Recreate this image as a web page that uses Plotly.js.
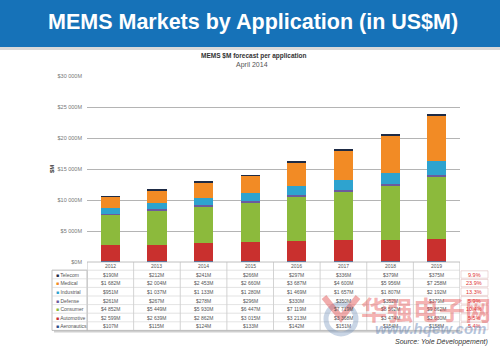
<!DOCTYPE html>
<html><head><meta charset="utf-8">
<script src="https://cdn.plot.ly/plotly-3.0.1.min.js"></script>
<style>html,body{margin:0;padding:0;background:#fff}#chart{width:500px;height:347px}</style>
</head><body><div id="chart"></div>
<script>
const years = ['2012','2013','2014','2015','2016','2017','2018','2019'];
const seriesNames = ['Aeronautics','Automotive','Consumer','Defense','Industrial','Medical','Telecom'];
const aeronautics = [107,115,124,133,142,151,154,158];
const automotive = [2599,2639,2862,3015,3213,3368,3474,3630];
const consumer = [4852,5449,5930,6447,7119,7719,8562,9862];
const defense = [261,267,278,296,330,350,352,379];
const industrial = [951,1037,1133,1280,1469,1657,1807,2192];
const medical = [1682,2004,2453,2660,3687,4600,5956,7258];
const telecom = [190,212,241,266,297,336,379,375];
const cagrTop = ['9.9%','23.9%','13.3%','5.9%','10.4%','5.5%','5.4%']; // Telecom..Aeronautics
const yTickVals = [0,5000,10000,15000,20000,25000,30000];
const yTickText = ['$0M','$5 000M','$10 000M','$15 000M','$20 000M','$25 000M','$30 000M'];

const colors = ['#2b4f8c','#c9302e','#8cba3c','#6b5b9e','#2ea3cf','#f28b25','#1e2b45'];
const allSeries = [aeronautics,automotive,consumer,defense,industrial,medical,telecom];

const traces = allSeries.map((vals,i)=>({
  type:'bar', x:years, y:vals, name:seriesNames[i],
  marker:{color:colors[i], line:{width:0}}, hoverinfo:'skip'
}));

// layout geometry (pixels)
const W=500,H=347, L=87, R=460, T=76, B=262;
const px = x => (x-L)/(R-L);
const py = y => (B-y)/(B-T);

const ann = [];
const shapes = [];
// banner
shapes.push({type:'rect',xref:'paper',yref:'paper',x0:px(0),x1:px(500),y0:py(47),y1:py(0),fillcolor:'#1672b8',line:{width:0},layer:'below'});
shapes.push({type:'rect',xref:'paper',yref:'paper',x0:px(0),x1:px(500),y0:py(50),y1:py(47),fillcolor:'#d9d9d9',line:{width:0},layer:'below'});
ann.push({xref:'paper',yref:'paper',x:px(253),y:py(22),text:'<b>MEMS Markets by Application (in US$M)</b>',showarrow:false,font:{family:'Liberation Sans, Arial',size:21.5,color:'#ffffff'},xanchor:'center',yanchor:'middle'});
ann.push({xref:'paper',yref:'paper',x:px(253),y:py(56),text:'<b>MEMS $M forecast per application</b>',showarrow:false,font:{family:'Liberation Sans, Arial',size:6.5,color:'#333'},xanchor:'center',yanchor:'middle'});
ann.push({xref:'paper',yref:'paper',x:px(252),y:py(64.5),text:'April 2014',showarrow:false,font:{family:'Liberation Sans, Arial',size:7,color:'#555'},xanchor:'center',yanchor:'middle'});
ann.push({xref:'paper',yref:'paper',x:px(52),y:py(169),text:'<b>$M</b>',textangle:-90,showarrow:false,font:{family:'Liberation Sans, Arial',size:6,color:'#333'},xanchor:'center',yanchor:'middle'});

// table
const rowTop = 262, headH = 8.2, rowH = 8.6;
const tblFont = {family:'Liberation Sans, Arial',size:5,color:'#555'};
const tableRows = [
  ['Telecom',telecom,'#1e2b45'],
  ['Medical',medical,'#f28b25'],
  ['Industrial',industrial,'#2ea3cf'],
  ['Defense',defense,'#6b5b9e'],
  ['Consumer',consumer,'#8cba3c'],
  ['Automotive',automotive,'#c9302e'],
  ['Aeronautics',aeronautics,'#2b4f8c']
];
const fmt = v => '$' + String(v).replace(/\B(?=(\d{3})+(?!\d))/g,' ') + 'M';
const tblBottom = rowTop+headH+rowH*tableRows.length;
// shadow
shapes.push({type:'rect',xref:'paper',yref:'paper',x0:px(54),x1:px(462),y0:py(tblBottom+2),y1:py(tblBottom),fillcolor:'#cfcfcf',line:{width:0}});
// header row
years.forEach((yr,i)=>{
  ann.push({xref:'x',yref:'paper',x:i,y:py(rowTop+headH/2+0.3),text:yr,showarrow:false,font:tblFont,xanchor:'center',yanchor:'middle'});
});
shapes.push({type:'rect',xref:'x',yref:'paper',x0:-0.5,x1:7.5,y0:py(tblBottom),y1:py(rowTop),line:{color:'#b0b0b0',width:0.8},fillcolor:'rgba(0,0,0,0)'});
shapes.push({type:'rect',xref:'paper',yref:'paper',x0:px(52),x1:px(L),y0:py(tblBottom),y1:py(rowTop+headH),line:{color:'#b0b0b0',width:0.8},fillcolor:'rgba(0,0,0,0)'});
for(let i=1;i<8;i++){
  shapes.push({type:'line',xref:'x',yref:'paper',x0:i-0.5,x1:i-0.5,y0:py(tblBottom),y1:py(rowTop),line:{color:'#c0c0c0',width:0.7}});
}
tableRows.forEach((r,j)=>{
  const yTop = rowTop+headH+rowH*j;
  shapes.push({type:'line',xref:'paper',yref:'paper',x0:px(52),x1:1,y0:py(yTop),y1:py(yTop),line:{color:'#d0d0d0',width:0.6}});
  const yc = yTop+rowH/2+0.3;
  ann.push({xref:'paper',yref:'paper',x:px(53.5),y:py(yc),text:'<span style="color:'+r[2]+'">■</span> '+r[0],showarrow:false,font:tblFont,xanchor:'left',yanchor:'middle'});
  r[1].forEach((v,i)=>{
    ann.push({xref:'x',yref:'paper',x:i,y:py(yc),text:fmt(v),showarrow:false,font:tblFont,xanchor:'center',yanchor:'middle'});
  });
  shapes.push({type:'rect',xref:'paper',yref:'paper',x0:px(461),x1:px(488),y0:py(yTop+rowH-0.6),y1:py(yTop+0.6),line:{color:'#d8b0b0',width:0.5},fillcolor:'rgba(0,0,0,0)'});
  ann.push({xref:'paper',yref:'paper',x:px(474.5),y:py(yc),text:cagrTop[j],showarrow:false,font:{family:'Liberation Sans, Arial',size:5.5,color:'#e03030'},xanchor:'center',yanchor:'middle'});
});

// watermark (overlay seen on the reference image)
shapes.push({type:'circle',xref:'paper',yref:'paper',x0:px(326),x1:px(356),y0:py(334),y1:py(304),line:{color:'rgba(120,150,190,0.4)',width:5},fillcolor:'rgba(0,0,0,0)'});
shapes.push({type:'path',xref:'paper',yref:'paper',path:'M '+px(324)+' '+py(297)+' L '+px(341)+' '+py(318)+' L '+px(358)+' '+py(297),line:{color:'rgba(225,70,70,0.45)',width:6}});
ann.push({xref:'paper',yref:'paper',x:px(426),y:py(308),text:'<b>华强电子网</b>',showarrow:false,font:{family:'Noto Sans CJK SC',size:26,color:'rgba(228,70,70,0.42)'},xanchor:'center',yanchor:'middle'});
ann.push({xref:'paper',yref:'paper',x:px(430),y:py(328),text:'<b><i>www.hqew.com</i></b>',showarrow:false,font:{family:'Liberation Sans, Arial',size:15,color:'rgba(110,140,185,0.5)'},xanchor:'center',yanchor:'middle'});

ann.push({xref:'paper',yref:'paper',x:px(490),y:py(342),text:'<i>Source: Yole Développement)</i>',showarrow:false,font:{family:'Liberation Sans, Arial',size:7,color:'#333'},xanchor:'right',yanchor:'middle'});

const layout = {
  width:W,height:H,margin:{l:L,r:W-R,t:T,b:H-B,pad:0},
  paper_bgcolor:'#fff',plot_bgcolor:'#fff',
  barmode:'stack',bargap:0.59,showlegend:false,
  xaxis:{type:'category',range:[-0.5,7.5],showticklabels:false,ticks:'',showgrid:false,zeroline:false,showline:false},
  yaxis:{range:[0,30000],tickvals:yTickVals,ticktext:yTickText,showgrid:true,gridcolor:'#b4b4b4',gridwidth:1,zeroline:false,showline:false,ticks:'',tickfont:{family:'Liberation Sans, Arial',size:5.5,color:'#777'},ticklabelstandoff:4},
  annotations:ann,shapes:shapes
};
Plotly.newPlot('chart',traces,layout,{staticPlot:true,displayModeBar:false});
</script></body></html>
